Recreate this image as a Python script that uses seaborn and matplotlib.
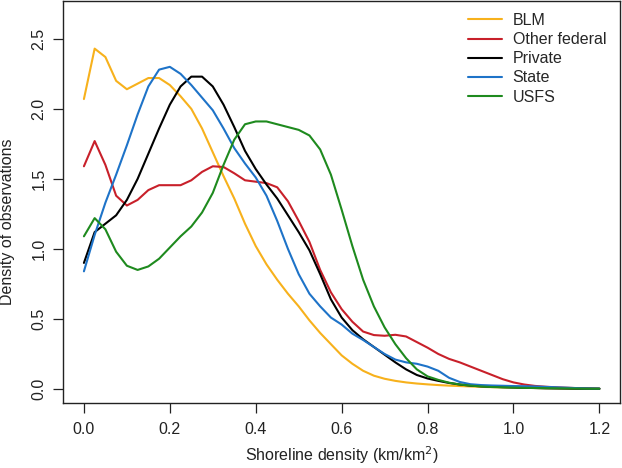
import matplotlib
matplotlib.use("Agg")
import matplotlib.pyplot as plt
import numpy as np
import pandas as pd
import seaborn as sns

# sample grid (km/km2), densities at each step
shoreline = np.round(np.linspace(0.0, 1.2, 49), 3)

blm = [2.07, 2.43, 2.37, 2.20, 2.14, 2.18, 2.22, 2.22, 2.17, 2.09,
       2.00, 1.86, 1.69, 1.52, 1.36, 1.18, 1.02, 0.89, 0.78, 0.68,
       0.59, 0.49, 0.40, 0.32, 0.24, 0.18, 0.13, 0.095, 0.073, 0.058,
       0.047, 0.039, 0.033, 0.028, 0.024, 0.021, 0.018, 0.015, 0.013, 0.011,
       0.010, 0.008, 0.007, 0.006, 0.005, 0.004, 0.003, 0.002, 0.002]

other_federal = [1.59, 1.77, 1.60, 1.38, 1.31, 1.35, 1.42, 1.455, 1.455, 1.455,
                 1.49, 1.55, 1.59, 1.585, 1.54, 1.49, 1.48, 1.47, 1.44, 1.34,
                 1.20, 1.05, 0.85, 0.69, 0.57, 0.48, 0.41, 0.385, 0.38, 0.387,
                 0.375, 0.335, 0.295, 0.25, 0.215, 0.19, 0.16, 0.13, 0.10, 0.07,
                 0.047, 0.032, 0.022, 0.016, 0.012, 0.009, 0.006, 0.004, 0.003]

private = [0.90, 1.12, 1.18, 1.24, 1.35, 1.50, 1.68, 1.86, 2.03, 2.16,
           2.23, 2.23, 2.16, 2.03, 1.87, 1.70, 1.57, 1.46, 1.36, 1.24,
           1.12, 0.99, 0.82, 0.64, 0.51, 0.42, 0.355, 0.30, 0.245, 0.19,
           0.14, 0.10, 0.075, 0.058, 0.043, 0.032, 0.024, 0.019, 0.016, 0.013,
           0.011, 0.009, 0.007, 0.005, 0.004, 0.003, 0.002, 0.002, 0.001]

state = [0.84, 1.10, 1.33, 1.53, 1.74, 1.96, 2.16, 2.28, 2.30, 2.25,
         2.17, 2.08, 1.99, 1.86, 1.72, 1.61, 1.51, 1.38, 1.20, 1.00,
         0.82, 0.68, 0.59, 0.51, 0.46, 0.395, 0.35, 0.30, 0.25, 0.21,
         0.19, 0.18, 0.16, 0.13, 0.08, 0.05, 0.034, 0.028, 0.025, 0.023,
         0.021, 0.020, 0.018, 0.015, 0.012, 0.009, 0.006, 0.004, 0.003]

usfs = [1.09, 1.22, 1.14, 0.98, 0.88, 0.85, 0.875, 0.93, 1.01, 1.09,
        1.16, 1.26, 1.40, 1.60, 1.78, 1.89, 1.91, 1.91, 1.89, 1.87,
        1.85, 1.81, 1.71, 1.53, 1.28, 1.02, 0.78, 0.59, 0.44, 0.32,
        0.22, 0.14, 0.09, 0.065, 0.045, 0.032, 0.024, 0.018, 0.014, 0.012,
        0.010, 0.008, 0.007, 0.006, 0.005, 0.004, 0.003, 0.002, 0.002]

owners = ["BLM", "Other federal", "Private", "State", "USFS"]
colors = ["#F7B11C", "#C8202A", "#000000", "#1E73C8", "#1E8A1E"]

frames = []
for name, vals in zip(owners, [blm, other_federal, private, state, usfs]):
    frames.append(pd.DataFrame({"Shoreline": shoreline, "Density": vals, "Owner": name}))
df = pd.concat(frames, ignore_index=True)

sns.set_style("ticks")
plt.rcParams["font.family"] = ["Liberation Sans", "DejaVu Sans"]

fig = plt.figure(figsize=(6.22, 4.68), dpi=100)
ax = fig.add_axes([63.3 / 622, 1 - 403 / 468, (620 - 63.3) / 622, 402 / 468])

sns.lineplot(data=df, x="Shoreline", y="Density", hue="Owner",
             palette=dict(zip(owners, colors)), hue_order=owners,
             estimator=None, sort=False, linewidth=1.5, ax=ax)

ax.set_xlim(-0.048, 1.248)
ax.set_ylim(-0.1, 2.77)
ax.set_xticks([0.0, 0.2, 0.4, 0.6, 0.8, 1.0, 1.2])
ax.set_xticklabels(["0.0", "0.2", "0.4", "0.6", "0.8", "1.0", "1.2"])
ax.set_yticks([0.0, 0.5, 1.0, 1.5, 2.0, 2.5])
ax.set_yticklabels(["0.0", "0.5", "1.0", "1.5", "2.0", "2.5"], rotation=90, va="center")

for s in ax.spines.values():
    s.set_visible(True)
    s.set_color("#222222")
    s.set_linewidth(1.0)
ax.tick_params(axis="both", length=7, width=0.9, color="#222222",
               labelsize=11.5, labelcolor="#222222")
ax.tick_params(axis="x", pad=7)
ax.tick_params(axis="y", pad=5)

ax.set_xlabel("Shoreline density (km/km$^2$)", fontsize=11.5, color="#222222")
ax.set_ylabel("Density of observations", fontsize=11.5, color="#222222")
ax.xaxis.set_label_coords(0.5, -0.103)
ax.yaxis.set_label_coords(-0.087, 0.45)

ax.legend(frameon=False, loc="upper left", bbox_to_anchor=(468 / 622, 1 - 13 / 468),
          bbox_transform=fig.transFigure, borderpad=0, borderaxespad=0,
          handlelength=2.1, handletextpad=0.7, labelspacing=0.26, fontsize=11.5)

fig.savefig("out.png", dpi=100)
